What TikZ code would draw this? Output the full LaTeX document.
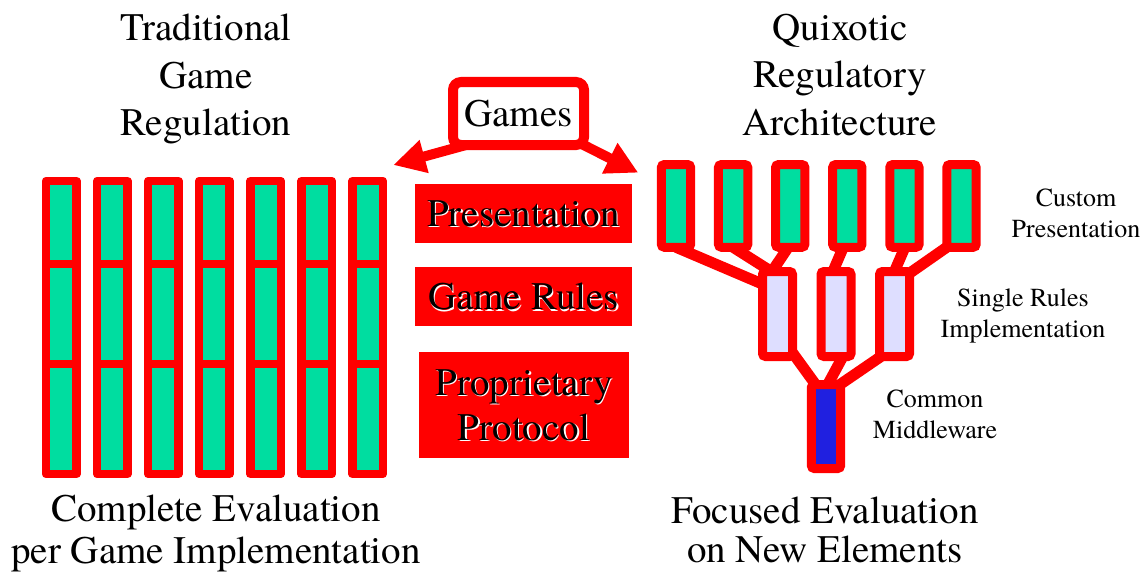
\documentclass[tikz,border=0pt]{standalone}
\usepackage{fontspec}
\setmainfont{TeX Gyre Termes}
\usetikzlibrary{arrows.meta,backgrounds,calc}
\definecolor{mint}{RGB}{0,221,160}
\definecolor{lav}{RGB}{222,222,255}
\definecolor{deepblue}{RGB}{32,32,224}
\newcommand{\shd}[1]{\rlap{\kern1.3pt\raisebox{-1.3pt}{\textcolor{white}{#1}}}#1}
\begin{document}
\begin{tikzpicture}[x=1pt,y=-1pt,
  cell/.style={draw=red,fill=mint,line width=8.5pt,minimum width=30.5pt,inner sep=0pt,outer sep=0pt,line join=round},
  tbox/.style={draw=red,line width=9pt,minimum width=29.3pt,minimum height=82.7pt,inner sep=0pt,outer sep=0pt,rounded corners=3pt},
  link/.style={draw=red,line width=11pt},
  bigtext/.style={font=\fontsize{39}{47.5}\selectfont,align=center,inner sep=0pt,anchor=north},
  smalltext/.style={font=\fontsize{26}{31}\selectfont,align=center,inner sep=0pt,anchor=north},
  redlabel/.style={fill=red,inner sep=0pt,font=\fontsize{39}{45}\selectfont,align=center,text depth=0pt},
  garrow/.style={draw=red,line width=10pt,-{Triangle[length=32pt,width=32pt]}}
]
\useasboundingbox (0,0) rectangle (1146,578);

% left columns
\foreach \i in {1,...,7}{
  \pgfmathsetmacro{\cx}{61.3+51.05*(\i-1)}
  \node[cell,minimum height=83pt]  (cu\i) at (\cx,222.5) {};
  \node[cell,minimum height=100pt] (cm\i) at (\cx,314) {};
  \node[cell,minimum height=110pt] (cl\i) at (\cx,419) {};
}

% titles
\node[bigtext] (t1) at (206,13.7) {Traditional\\Game\\Regulation};
\node[bigtext] (t2) at (840,13.5) {Quixotic\\Regulatory\\Architecture};
\node[bigtext,font=\fontsize{39}{42.5}\selectfont] (b1) at (216,494.4) {Complete Evaluation\\per Game Implementation};
\node[bigtext,font=\fontsize{39}{39}\selectfont] (b2) at (825,496.7) {Focused Evaluation\\on New Elements};

% games
\node[draw=red,fill=white,line width=10pt,rounded corners=8pt,minimum width=131pt,minimum height=63pt,inner sep=0pt,outer sep=0pt,font=\fontsize{39}{45}\selectfont,text depth=0pt] (G) at (518.5,113.5) {Games};
\coordinate (la) at (393.3,165);
\coordinate (ra) at (638.3,172.7);

% red labels
\node[redlabel,minimum width=217pt,minimum height=59pt] (p1) at (523.5,213.5) {\shd{Presentation}};
\node[redlabel,minimum width=217pt,minimum height=59pt] (p2) at (523.5,296.5) {\shd{Game Rules}};
\node[redlabel,minimum width=210pt,minimum height=106pt] (p3) at (524,405) {\shd{Proprietary}\\\shd{Protocol}};

% right tree
\foreach \i in {1,...,6}{
  \pgfmathsetmacro{\cx}{676+57.1*(\i-1)}
  \node[tbox,fill=mint] (r\i) at (\cx,205.9) {};
}
\node[tbox,fill=lav,minimum width=30pt,minimum height=85pt] (A) at (777.5,314) {};
\node[tbox,fill=lav,minimum width=30pt,minimum height=85pt] (B) at (836,314) {};
\node[tbox,fill=lav,minimum width=30pt,minimum height=85pt] (C) at (894.5,314) {};
\node[tbox,fill=deepblue,minimum height=84pt] (D) at (826,426.5) {};

\begin{scope}[on background layer]
  \draw[garrow] ([shift={(13,0)}]G.south west) -- (la);
  \draw[garrow] ([shift={(-13,-6.4)}]G.south east) -- (ra);
  \draw[link] (r1.south) -- ([shift={(8,16)}]A.north west);
  \draw[link] (r2.south) -- ([shift={(12,2)}]A.north west);
  \draw[link] ([shift={(-2,0)}]r3.south) -- ([shift={(-8.5,4.5)}]A.north);
  \draw[link] ([shift={(-4,0)}]r4.south) -- ([shift={(-5,4.5)}]B.north);
  \draw[link] ([shift={(0.5,0)}]r5.south) -- ([shift={(-2,4.5)}]C.north);
  \draw[link] ([shift={(-6.5,-5.75)}]r6.south) -- ([shift={(10.5,4.9)}]C.north);
  \draw[link] ([shift={(14.5,-4.5)}]A.south) -- ([shift={(-5,7.5)}]D.north);
  \draw[link] ([shift={(9.3,-4.5)}]B.south) -- ([shift={(-2.3,7.5)}]D.north);
  \draw[link] ([shift={(-7,-4.5)}]C.south) -- ([shift={(3,7.5)}]D.north);
\end{scope}

% side labels
\node[smalltext] (l1) at (1076,188.4) {Custom\\Presentation};
\node[smalltext] (l2) at (1023,288.9) {Single Rules\\Implementation};
\node[smalltext] (l3) at (935,389.4) {Common\\Middleware};
\end{tikzpicture}
\end{document}
